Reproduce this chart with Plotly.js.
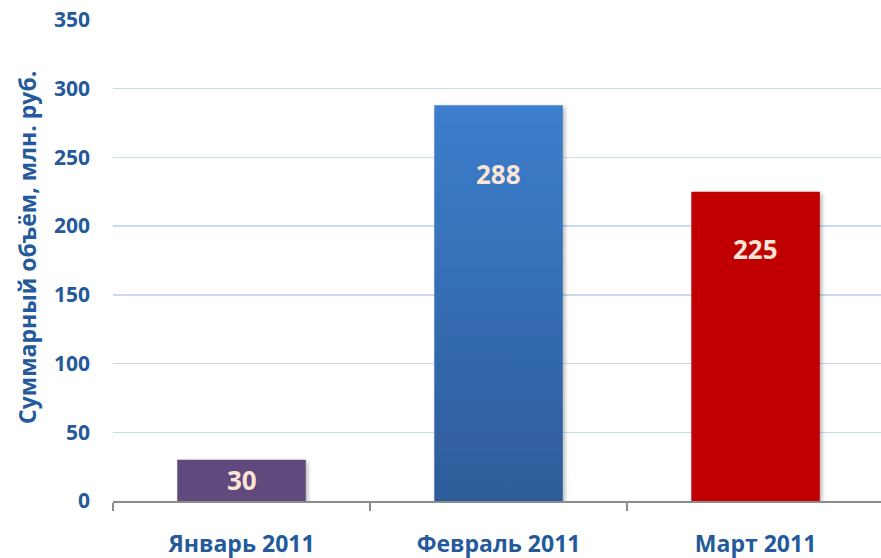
<!DOCTYPE html>
<html>
<head>
<meta charset="utf-8">
<script src="https://cdn.plot.ly/plotly-3.0.1.min.js"></script>
<style>
  html, body { margin: 0; padding: 0; background: #ffffff; }
  #chart { width: 881px; height: 558px; }
</style>
</head>
<body>
<div id="chart"></div>
<script>
// ---- data ----
const categories = ["Январь 2011", "Февраль 2011", "Март 2011"];
const values = [30, 288, 225];
const valueLabels = ["30", "288", "225"];
const yTickValues = [0, 50, 100, 150, 200, 250, 300, 350];
const yTitle = "Суммарный объём, млн. руб.";

// ---- styles ----
const barColors = ["#604A7B", "#3A74BE", "#C00000"];
const labelShift = [-20, -69, -57];
const textBlue = "#245A9B";
const font = "Open Sans, Noto Sans, sans-serif";

const trace = {
  type: "bar",
  x: categories,
  y: values,
  width: 0.5,
  marker: { color: barColors, line: { width: 0 } },
  hoverinfo: "skip"
};

const annotations = categories.map((c, i) => ({
  x: c, y: values[i], xref: "x", yref: "y",
  text: valueLabels[i], showarrow: false,
  yshift: labelShift[i], yanchor: "middle",
  font: { family: font, size: 26, weight: 700, color: "#FCE4D6" }
}));
annotations.push({
  text: yTitle, textangle: -90, showarrow: false,
  xref: "paper", yref: "paper", x: 0, xshift: -86, y: 0.526,
  xanchor: "center", yanchor: "middle",
  font: { family: font, size: 23, weight: 700, color: textBlue }
});

const layout = {
  width: 881, height: 558,
  margin: { l: 113, r: 0, t: 20, b: 57 },
  paper_bgcolor: "#ffffff",
  plot_bgcolor: "#ffffff",
  showlegend: false,
  xaxis: {
    type: "category",
    range: [-0.5, 2.488],
    tickson: "boundaries",
    ticks: "outside", ticklen: 8, tickwidth: 1.5, tickcolor: "#8C8C8C",
    showline: true, linecolor: "#8C8C8C", linewidth: 1.5,
    showgrid: false, zeroline: false,
    ticklabelstandoff: 22,
    tickfont: { family: font, size: 23, weight: 700, color: textBlue }
  },
  yaxis: {
    range: [0, 350],
    tickvals: yTickValues,
    showline: false, zeroline: false,
    showgrid: true, gridcolor: "#C9DAF0", gridwidth: 1.5,
    ticks: "", ticklabelstandoff: 22,
    tickfont: { family: font, size: 21, weight: 700, color: textBlue }
  },
  annotations: annotations
};

Plotly.newPlot("chart", [trace], layout, { staticPlot: true, displayModeBar: false }).then(gd => {
  const svgNS = "http://www.w3.org/2000/svg";
  const svg = gd.querySelector("svg.main-svg");
  let defs = svg.querySelector("defs");
  if (!defs) { defs = document.createElementNS(svgNS, "defs"); svg.insertBefore(defs, svg.firstChild); }
  const grad = document.createElementNS(svgNS, "linearGradient");
  grad.setAttribute("id", "febGrad");
  grad.setAttribute("x1", "0"); grad.setAttribute("y1", "0");
  grad.setAttribute("x2", "0"); grad.setAttribute("y2", "1");
  [["0", "#3C7ECD"], ["1", "#2E5C99"]].forEach(([o, c]) => {
    const s = document.createElementNS(svgNS, "stop");
    s.setAttribute("offset", o); s.setAttribute("stop-color", c);
    grad.appendChild(s);
  });
  defs.appendChild(grad);
  const filt = document.createElementNS(svgNS, "filter");
  filt.setAttribute("id", "barShadow");
  filt.setAttribute("x", "-10%"); filt.setAttribute("y", "-10%");
  filt.setAttribute("width", "125%"); filt.setAttribute("height", "125%");
  const ds = document.createElementNS(svgNS, "feDropShadow");
  ds.setAttribute("dx", "2"); ds.setAttribute("dy", "2");
  ds.setAttribute("stdDeviation", "2");
  ds.setAttribute("flood-color", "#000"); ds.setAttribute("flood-opacity", "0.3");
  filt.appendChild(ds);
  defs.appendChild(filt);
  const paths = gd.querySelectorAll(".barlayer .point path");
  paths.forEach((p, i) => {
    p.setAttribute("filter", "url(#barShadow)");
    if (i === 1) p.style.fill = "url(#febGrad)";
  });
});
</script>
</body>
</html>
